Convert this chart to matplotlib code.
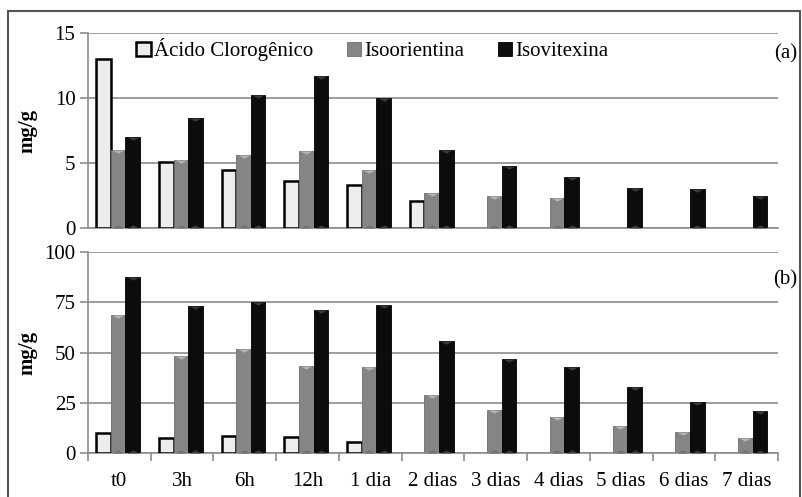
import numpy as np
import matplotlib
matplotlib.use("Agg")
import matplotlib.pyplot as plt
from matplotlib.patches import Rectangle

plt.rcParams["font.family"] = ["Liberation Serif", "DejaVu Serif"]
plt.rcParams["font.size"] = 15

categories = ["t0", "3h", "6h", "12h", "1 dia", "2 dias", "3 dias", "4 dias",
              "5 dias", "6 dias", "7 dias"]
series_names = ["Ácido Clorogênico", "Isoorientina", "Isovitexina"]

nan = np.nan
# (a)
acido_a = [13.0, 5.1, 4.5, 3.6, 3.3, 2.1, nan, nan, nan, nan, nan]
isoori_a = [6.0, 5.2, 5.6, 5.9, 4.5, 2.7, 2.5, 2.3, nan, nan, nan]
isovit_a = [7.0, 8.5, 10.2, 11.7, 10.0, 6.0, 4.8, 3.9, 3.1, 3.0, 2.45]
# (b)
acido_b = [9.9, 7.4, 8.6, 7.9, 5.3, nan, nan, nan, nan, nan, nan]
isoori_b = [68.9, 48.4, 51.6, 43.3, 43.0, 28.9, 21.5, 17.7, 13.6, 10.6, 7.6]
isovit_b = [87.8, 72.9, 75.2, 71.4, 73.6, 55.5, 46.6, 42.6, 33.0, 25.5, 21.0]

face = ["#ededed", "#858585", "#0c0c0c"]
edge = ["#000000", "#6e6e6e", "#000000"]
bevel_top = [None, "#b5b5b5", "#3a3a3a"]
grid_c = "#8c8c8c"

# triangle hanging below the anchor point (bevel look)
tri_down = [(-1, 0), (1, 0), (0, -0.55), (-1, 0)]
tri_up = [(-1, 0), (1, 0), (0, 0.55), (-1, 0)]

fig = plt.figure(figsize=(8.03, 4.97), dpi=100)

# outer frame
fig.patches.append(Rectangle((8 / 803, -0.05), 792 / 803, 1.05 - 11 / 497,
                             transform=fig.transFigure, fill=False,
                             edgecolor="#555555", linewidth=1.5))

ax1 = fig.add_axes([0.1096, 0.5412, 0.8593, 0.3924])
ax2 = fig.add_axes([0.1096, 0.0885, 0.8593, 0.4044])

x = np.arange(len(categories))
w = 0.232


def draw(ax, data, ymax, step):
    for i, vals in enumerate(data):
        vals = np.array(vals, dtype=float)
        ok = ~np.isnan(vals)
        xs = x[ok] + (i - 1) * w - 0.02
        lw = 1.8 if i == 0 else 0.6
        ax.bar(xs, vals[ok], width=w, color=face[i], edgecolor=edge[i],
               linewidth=lw, zorder=3, label=series_names[i])
        if bevel_top[i] is not None:
            ax.scatter(xs, vals[ok], marker=tri_down, s=70, color=bevel_top[i],
                       linewidths=0, zorder=4)
            ax.scatter(xs, np.zeros(ok.sum()), marker=tri_up, s=70,
                       color=bevel_top[i] if i == 2 else "#707070",
                       linewidths=0, zorder=4)
    ax.set_xlim(-0.5, len(categories) - 0.5)
    ax.set_ylim(0, ymax)
    ax.set_yticks(np.arange(0, ymax + 1, step))
    ax.yaxis.grid(True, color=grid_c, linewidth=1.2, zorder=0)
    ax.set_axisbelow(True)
    for s in ["top", "right"]:
        ax.spines[s].set_visible(False)
    ax.spines["left"].set_color(grid_c)
    ax.spines["bottom"].set_color(grid_c)
    ax.spines["left"].set_linewidth(1.2)
    ax.spines["bottom"].set_linewidth(1.2)
    ax.tick_params(axis="y", colors=grid_c, labelcolor="black", length=6,
                   width=1.2, labelsize=15, pad=3)
    ax.set_ylabel("mg/g", fontweight="bold", fontsize=15)
    ax.yaxis.set_label_coords(-0.073, 0.5)


draw(ax1, [acido_a, isoori_a, isovit_a], 15, 5)
draw(ax2, [acido_b, isoori_b, isovit_b], 100, 25)

ax1.set_xticks([])

# ticks between categories on the lower axis, labels centred
ax2.set_xticks(np.arange(-0.5, len(categories), 1.0))
ax2.set_xticklabels([])
ax2.set_xticks(x, minor=True)
ax2.set_xticklabels(categories, minor=True)
ax2.tick_params(axis="x", which="major", colors=grid_c, length=6, width=1.2)
ax2.tick_params(axis="x", which="minor", length=0, labelsize=15, pad=14)

leg = ax1.legend(loc="upper left", bbox_to_anchor=(0.043, 1.07), ncol=3,
                 frameon=False, handlelength=0.7, handleheight=0.7,
                 handletextpad=0.15, columnspacing=1.6, fontsize=15)

fig.text(0.993, 0.891, "(a)", ha="right", va="center", fontsize=15)
fig.text(0.993, 0.437, "(b)", ha="right", va="center", fontsize=15)

fig.savefig("out.png", dpi=100)
